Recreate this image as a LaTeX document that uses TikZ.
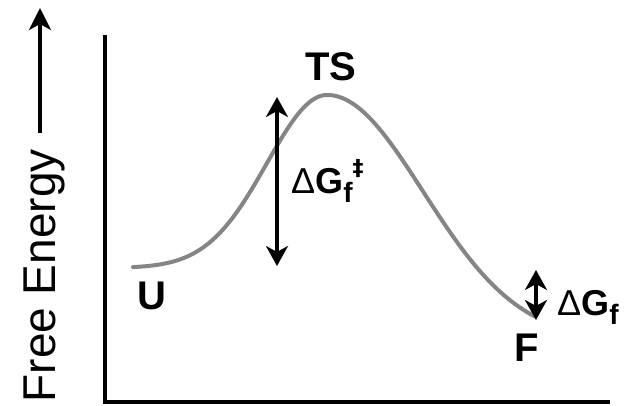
\documentclass[tikz,border=0pt]{standalone}
\usepackage{fontspec}
\setmainfont{Liberation Sans}
\newfontfamily\dgfont{DejaVu Sans}
\usetikzlibrary{arrows.meta}
\tikzset{
  axisline/.style={line width=4pt, line join=miter},
  curveline/.style={line width=4pt, draw={rgb,255:red,133;green,133;blue,133}, line cap=round},
  dblarrow/.style={line width=3.3pt, {Stealth[length=20pt,width=22pt,inset=6pt]}-{Stealth[length=20pt,width=22pt,inset=6pt]}},
  uparrow/.style={line width=3.3pt, -{Stealth[length=22pt,width=22pt,inset=6pt]}},
  statelabel/.style={inner sep=0pt, font=\fontsize{40}{40}\selectfont\bfseries},
  dglabel/.style={inner sep=0pt, anchor=base west, font=\fontsize{36}{36}\selectfont}
}
\begin{document}
\begin{tikzpicture}[x=1pt,y=1pt]
\useasboundingbox (0,0) rectangle (624,-405);
% axes
\coordinate (ytop) at (105,-35);
\coordinate (origin) at (105,-402);
\coordinate (xend) at (610,-402);
\draw[axisline] (ytop) -- (origin) -- (xend);
% axis label
\node[inner sep=0pt, rotate=90, anchor=base east, font=\fontsize{46}{46}\selectfont] (ylab) at (55,-149) {Free Energy};
\coordinate (ya0) at (40,-133);
\coordinate (ya1) at (40,-8);
\draw[uparrow] (ya0) -- (ya1);
% energy curve
\draw[curveline] plot[domain=133:327, samples=80] ({\x},{-268+173*exp(-((\x-327)/60)^2/2)})
  -- plot[domain=327:535, samples=80] ({\x},{-340+245*exp(-((\x-327)/96)^2/2)});
% state labels
\node[statelabel] (TS) at (331,-67) {TS};
\node[statelabel] (U) at (152,-296) {U};
\node[statelabel] (F) at (527,-348) {F};
% barrier arrow
\coordinate (b0) at (277,-97);
\coordinate (b1) at (277,-266);
\draw[dblarrow] (b0) -- (b1);
\node[dglabel] (dgts) at (291,-193) {Δ\textbf{G}\raisebox{-0.26em}{\fontsize{28}{28}\selectfont\textbf{f}}\raisebox{0.5em}{\fontsize{22}{22}\selectfont\dgfont\bfseries ‡}};
% stability arrow
\coordinate (s0) at (536,-270);
\coordinate (s1) at (536,-320);
\draw[dblarrow] (s0) -- (s1);
\node[dglabel] (dgf) at (557,-315) {Δ\textbf{G}\raisebox{-0.26em}{\fontsize{28}{28}\selectfont\textbf{f}}};
\end{tikzpicture}
\end{document}
